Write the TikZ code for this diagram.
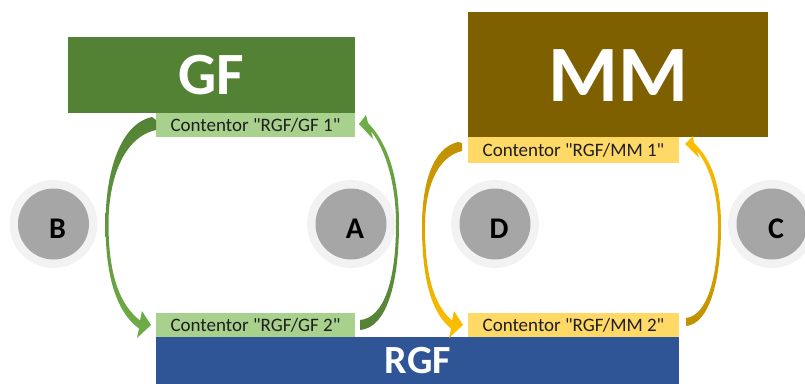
\documentclass[tikz,border=0pt]{standalone}
\usepackage{fontspec}
\setmainfont{Carlito}
% a family without the TeX mapping, so that " stays a straight quote
\newfontfamily\tagfont{Carlito}
\definecolor{gfdark}{HTML}{548235}
\definecolor{gflight}{HTML}{A9D18E}
\definecolor{gfarrow}{HTML}{70AD47}
\definecolor{mmdark}{HTML}{7F6000}
\definecolor{mmlight}{HTML}{FFD966}
\definecolor{mmarrowdark}{HTML}{BF9000}
\definecolor{mmarrow}{HTML}{FFC000}
\definecolor{rgfblue}{HTML}{2F5597}
\definecolor{ringgrey}{HTML}{F2F2F2}
\definecolor{discgrey}{HTML}{A6A6A6}
\definecolor{labeltext}{HTML}{1E1E1E}
\begin{document}
\begin{tikzpicture}[x=1pt,y=-1pt,
  bigbox/.style={rectangle,inner sep=0pt,text=white,font=\bfseries},
  tagbox/.style={rectangle,inner sep=0pt,text=labeltext,
    font=\tagfont\fontsize{19}{20}\selectfont},
  ring/.style={circle,inner sep=0pt,minimum size=88pt,fill=ringgrey},
  disc/.style={circle,inner sep=0pt,minimum size=71pt,fill=discgrey},
  letter/.style={inner sep=0pt,font=\fontsize{30}{30}\selectfont\bfseries}]
\useasboundingbox (0,0) rectangle (805,383);
\clip (0,0) rectangle (805,383);

% main blocks
\node[bigbox,fill=gfdark,minimum width=287pt,minimum height=76pt] (gf) at (211.5,75) {};
\node[bigbox,font=\fontsize{60}{60}\selectfont\bfseries] (gftext) at (211.5,75) {GF};
\node[bigbox,fill=mmdark,minimum width=300pt,minimum height=125pt] (mm) at (618,74.5) {};
\node[bigbox,font=\fontsize{80}{80}\selectfont\bfseries] (mmtext) at (618,76) {MM};
\node[bigbox,fill=rgfblue,minimum width=523pt,minimum height=53pt] (rgf) at (417.5,363.5) {};
\node[bigbox,font=\fontsize{40}{40}\selectfont\bfseries] (rgftext) at (418,361) {RGF};

% container tags
\node[tagbox,fill=gflight,minimum width=199pt,minimum height=24pt] (gf1) at (255.5,125) {Contentor "RGF/GF 1"};
\node[tagbox,fill=gflight,minimum width=199pt,minimum height=24pt] (gf2) at (255.5,325) {Contentor "RGF/GF 2"};
\node[tagbox,fill=mmlight,minimum width=211pt,minimum height=26pt] (mm1) at (573.5,150) {Contentor "RGF/MM 1"};
\node[tagbox,fill=mmlight,minimum width=211pt,minimum height=24pt] (mm2) at (573.5,325) {Contentor "RGF/MM 2"};

% curved arrows
% B: GF1 -> GF2
\shade[top color=gfdark,bottom color=gfarrow]
  (152,117) -- (156,120) -- (156,130)
  .. controls (124,137) and (108.5,178) .. (108.5,224)
  .. controls (108.5,275) and (120,305) .. (140,320.5)
  -- (142,311) -- (151,325) -- (137,338) -- (139,328.5)
  .. controls (116,312) and (105.5,275) .. (105.5,224)
  .. controls (105.5,172) and (120,124) .. (152,117) -- cycle;
% A: GF2 -> GF1
\shade[top color=gfarrow,bottom color=gfdark]
  (360,330) .. controls (386,328) and (399,285) .. (399,224)
  .. controls (399,172) and (385,140) .. (368,123)
  -- (366,115) -- (359,124) -- (373,139) -- (371,131)
  .. controls (386,150) and (396,185) .. (396,224)
  .. controls (396,280) and (384,318) .. (360,320) -- cycle;
% D: MM1 -> MM2
\shade[top color=mmarrowdark,bottom color=mmarrow]
  (458,142) -- (462,143) -- (462,151)
  .. controls (436,157) and (425,190) .. (425,226)
  .. controls (425,275) and (434,305) .. (452,320.5)
  -- (454,311) -- (463,325) -- (449,338) -- (451,328.5)
  .. controls (430,312) and (422,275) .. (422,226)
  .. controls (422,185) and (432,148) .. (458,142) -- cycle;
% C: MM2 -> MM1
\shade[top color=mmarrow,bottom color=mmarrowdark]
  (686,326) .. controls (708,324) and (721,285) .. (721,226)
  .. controls (721,182) and (710,158) .. (694,143)
  -- (693,136) -- (685,144) -- (699,158) -- (697,151)
  .. controls (709,166) and (718,192) .. (718,226)
  .. controls (718,280) and (706,316) .. (686,318) -- cycle;

% step markers
\foreach \name/\lab/\cx in {b/B/53.5, a/A/351, d/D/495, c/C/772}{
  \node[ring] (\name ring) at (\cx,224) {};
  \node[disc] (\name disc) at (\cx,224) {};
  \node[letter] (\name txt) at ([shift={(4pt,-5pt)}]\name disc.center) {\lab};
}
\end{tikzpicture}
\end{document}
